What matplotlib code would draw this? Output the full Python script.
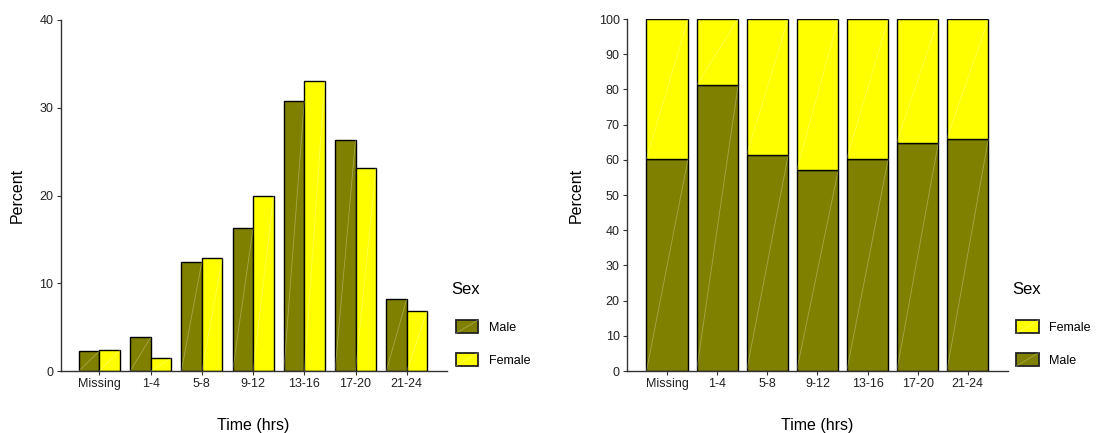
import numpy as np
import matplotlib.pyplot as plt
from matplotlib.patches import Rectangle, Patch
from matplotlib.lines import Line2D
from matplotlib.legend_handler import HandlerBase

plt.rcParams['font.family'] = ['Liberation Sans', 'DejaVu Sans']

times = ['Missing', '1-4', '5-8', '9-12', '13-16', '17-20', '21-24']
# percent of each sex falling in each time band
pct_male = [2.27, 3.82, 12.45, 16.27, 30.76, 26.37, 8.21]
pct_female = [2.38, 1.44, 12.86, 20.0, 33.1, 23.19, 6.89]
# share of each time band by sex
share_male = [60.3, 81.2, 61.3, 57.0, 60.3, 64.9, 66.0]
share_female = [39.7, 18.8, 38.7, 43.0, 39.7, 35.1, 34.0]

c_male = '#808000'
c_female = '#ffff00'
axis_col = '#333333'


def streak(ax, bars):
    # thin light diagonal across each bar, bottom-left to top-right
    for r in bars:
        x, y = r.get_x(), r.get_y()
        w, h = r.get_width(), r.get_height()
        ax.plot([x, x + w], [y, y + h], color='white', alpha=0.3, lw=0.6,
                zorder=3, solid_capstyle='butt')


class KeyHandler(HandlerBase):
    def create_artists(self, legend, orig_handle, xdescent, ydescent,
                       width, height, fontsize, trans):
        r = Rectangle((-xdescent, -ydescent), width, height,
                      facecolor=orig_handle.get_facecolor(),
                      edgecolor='#222222', lw=1.3, transform=trans)
        l = Line2D([-xdescent, -xdescent + width], [-ydescent, -ydescent + height],
                   color='white', alpha=0.3, lw=0.6, transform=trans)
        return [r, l]


def style(ax, ymax, yticks):
    ax.spines['top'].set_visible(False)
    ax.spines['right'].set_visible(False)
    for s in ('left', 'bottom'):
        ax.spines[s].set_color(axis_col)
        ax.spines[s].set_linewidth(1.0)
    ax.set_ylim(0, ymax)
    ax.set_yticks(yticks)
    ax.tick_params(axis='both', length=3, width=0.8, color=axis_col,
                   labelsize=9, labelcolor='#222222', pad=2)
    ax.set_ylabel('Percent', fontsize=11.5, labelpad=11)
    ax.set_xlabel('Time (hrs)', fontsize=11.5, labelpad=20)


def key_legend(fig, x_px, labels, colors):
    handles = [Patch(facecolor=c) for c in colors]
    fig.legend(handles, labels, loc='upper left',
               bbox_to_anchor=(x_px / 1099, 1 - 320 / 433),
               frameon=False, fontsize=9, borderpad=0, borderaxespad=0,
               handlelength=1.8, handleheight=1.28, handletextpad=0.85,
               labelspacing=1.5, handler_map={Patch: KeyHandler()})
    fig.text((x_px - 4.5) / 1099, 1 - 290 / 433, 'Sex', fontsize=12,
             ha='left', va='center')


fig = plt.figure(figsize=(10.99, 4.33), dpi=100)
x = np.arange(len(times))

# grouped bars: distribution of times within each sex
ax1 = fig.add_axes([60.5 / 1099, 1 - 371 / 433, 386.2 / 1099, 351 / 433])
b_m = ax1.bar(x - 0.2, pct_male, width=0.4, color=c_male, edgecolor='black', lw=1.0)
b_f = ax1.bar(x + 0.2, pct_female, width=0.4, color=c_female, edgecolor='black', lw=1.0)
streak(ax1, b_m)
streak(ax1, b_f)
ax1.set_xlim(-0.76, 6.78)
ax1.set_xticks(x)
ax1.set_xticklabels(times)
style(ax1, 40, [0, 10, 20, 30, 40])
key_legend(fig, 455.7, ['Male', 'Female'], [c_male, c_female])

# stacked bars: sex split within each time band
ax2 = fig.add_axes([626.7 / 1099, 1 - 371 / 433, 381 / 1099, 352 / 433])
s_m = ax2.bar(x, share_male, width=0.83, color=c_male, edgecolor='black', lw=1.0)
s_f = ax2.bar(x, share_female, width=0.83, bottom=share_male, color=c_female,
              edgecolor='black', lw=1.0)
streak(ax2, s_m)
streak(ax2, s_f)
ax2.set_xlim(-0.81, 6.80)
ax2.set_xticks(x)
ax2.set_xticklabels(times)
style(ax2, 100, range(0, 101, 10))
key_legend(fig, 1016.3, ['Female', 'Male'], [c_female, c_male])

fig.savefig('out.png', dpi=100)
plt.close(fig)
